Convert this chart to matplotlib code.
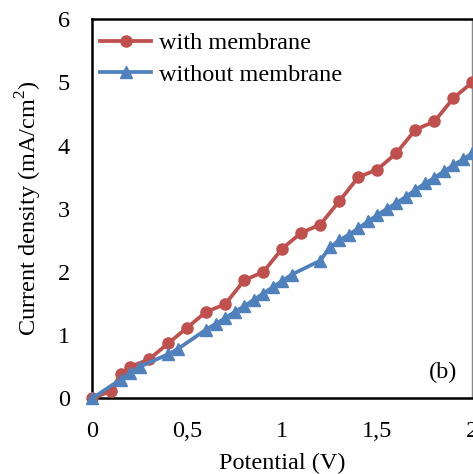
import matplotlib
matplotlib.use("Agg")
import matplotlib.pyplot as plt

# -------------------------------------------------
# DATA
# -------------------------------------------------
x_with = [0, 0.1, 0.15, 0.2, 0.3, 0.4, 0.5, 0.6, 0.7, 0.8, 0.9, 1.0,
          1.1, 1.2, 1.3, 1.4, 1.5, 1.6, 1.7, 1.8, 1.9, 2.0]
y_with = [0, 0.12, 0.38, 0.5, 0.62, 0.87, 1.12, 1.37, 1.49, 1.87, 2.0, 2.37,
          2.62, 2.75, 3.12, 3.5, 3.62, 3.88, 4.25, 4.38, 4.75, 5.0]

x_without = [0, 0.15, 0.2, 0.25, 0.4, 0.45, 0.6, 0.65, 0.7, 0.75, 0.8, 0.85,
             0.9, 0.95, 1.0, 1.05, 1.2, 1.25, 1.3, 1.35, 1.4, 1.45, 1.5,
             1.55, 1.6, 1.65, 1.7, 1.75, 1.8, 1.85, 1.9, 1.95, 2.0]
y_without = [0, 0.3, 0.4, 0.5, 0.7, 0.78, 1.09, 1.18, 1.27, 1.37, 1.46, 1.56,
             1.66, 1.76, 1.86, 1.96, 2.18, 2.39, 2.5, 2.59, 2.69, 2.8, 2.9,
             3.0, 3.09, 3.19, 3.3, 3.4, 3.49, 3.59, 3.69, 3.78, 3.88]

x_ticks = [0, 0.5, 1, 1.5, 2]
x_tick_labels = ["0", "0,5", "1", "1,5", "2"]
y_ticks = [0, 1, 2, 3, 4, 5, 6]

RED = "#C0504D"
BLUE = "#4F81BD"

plt.rcParams["font.family"] = ["Liberation Serif", "DejaVu Serif"]
plt.rcParams["mathtext.fontset"] = "custom"
plt.rcParams["mathtext.rm"] = "Liberation Serif"

# -------------------------------------------------
# PLOT
# -------------------------------------------------
fig = plt.figure(figsize=(4.73, 4.74), dpi=100)
ax = fig.add_axes([0.1945, 0.1593, 0.8044, 0.8006])

ax.plot(x_with, y_with, color=RED, lw=2.7, marker="o", ms=8,
        label="with membrane", clip_on=False, zorder=3)
ax.plot(x_without, y_without, color=BLUE, lw=2.7, marker="^", ms=8,
        label="without membrane", clip_on=False, zorder=4)

ax.set_xlim(0, 2)
ax.set_ylim(0, 6)
ax.set_xticks(x_ticks)
ax.set_xticklabels(x_tick_labels)
ax.set_yticks(y_ticks)
ax.tick_params(axis="both", length=0, labelsize=17.5)
ax.tick_params(axis="x", pad=16)
ax.tick_params(axis="y", pad=16)

ax.set_xlabel("Potential (V)", fontsize=17.5, labelpad=8)
ax.set_ylabel("Current density (mA/cm$^2$)", fontsize=17.5, labelpad=10)

for side in ["left", "bottom", "top"]:
    ax.spines[side].set_linewidth(1.8)
    ax.spines[side].set_color("black")
ax.spines["right"].set_linewidth(1.0)
ax.spines["right"].set_color("#888888")

ax.legend(loc="upper left", bbox_to_anchor=(-0.013, 1.0), frameon=False,
          fontsize=17.5, handlelength=2.1, handletextpad=0.3,
          borderaxespad=0.1, labelspacing=0.38, borderpad=0.45)

ax.text(0.96, 0.04, "(b)", transform=ax.transAxes, ha="right", va="bottom",
        fontsize=17.5)

fig.savefig("out.png", dpi=100)
